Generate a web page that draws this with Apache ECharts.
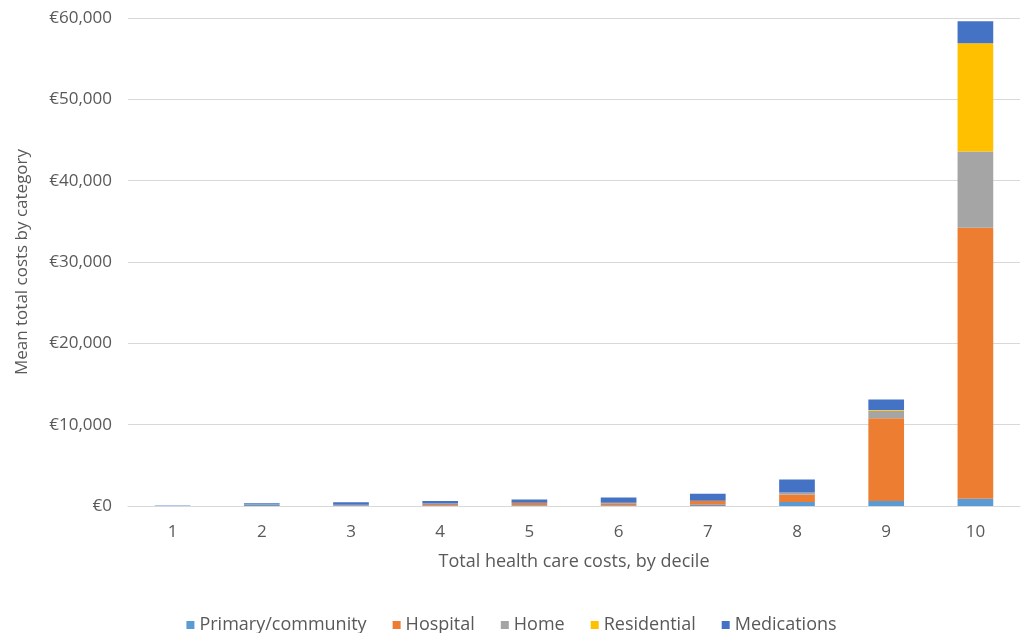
<!DOCTYPE html>
<html>
<head>
<meta charset="utf-8">
<script src="https://cdn.jsdelivr.net/npm/echarts@6/dist/echarts.min.js"></script>
<style>html,body{margin:0;padding:0;background:#fff;}#c{width:1023px;height:633px;}</style>
</head>
<body>
<div id="c"></div>
<script>
const categories = ['1','2','3','4','5','6','7','8','9','10'];
const primary     = [20, 220, 100, 100, 100, 100, 150, 500, 600, 900];
const hospital    = [10, 20, 50, 150, 300, 250, 500, 900, 10200, 33300];
const home        = [0, 0, 0, 50, 0, 50, 0, 250, 900, 9400];
const residential = [0, 0, 0, 0, 0, 0, 0, 0, 100, 13300];
const medications = [20, 100, 300, 300, 400, 650, 850, 1600, 1300, 2700];
const seriesNames = ['Primary/community','Hospital','Home','Residential','Medications'];
const colors = ['#5B9BD5','#ED7D31','#A5A5A5','#FFC000','#4472C4'];
const values = [primary, hospital, home, residential, medications];

const font = 'Open Sans';
const chart = echarts.init(document.getElementById('c'));
chart.setOption({
  animation: false,
  textStyle: {fontFamily: font},
  grid: {left: 128, right: 3, top: 18, bottom: 127},
  legend: {
    left: 'center', top: 611, itemWidth: 8, itemHeight: 8, itemGap: 26,
    icon: 'rect',
    textStyle: {color: '#595959', fontSize: 18, fontFamily: font},
    data: seriesNames
  },
  xAxis: {
    type: 'category', data: categories,
    name: 'Total health care costs, by decile', nameLocation: 'middle', nameGap: 47,
    nameTextStyle: {color: '#595959', fontSize: 18, fontFamily: font},
    axisLine: {lineStyle: {color: '#D9D9D9', width: 1}},
    axisTick: {show: false},
    axisLabel: {color: '#595959', fontSize: 17, margin: 18, fontFamily: font}
  },
  yAxis: {
    type: 'value', min: 0, max: 60000, interval: 10000,
    name: 'Mean total costs by category', nameLocation: 'middle', nameGap: 97,
    nameTextStyle: {color: '#595959', fontSize: 17, fontFamily: font},
    axisLine: {show: false}, axisTick: {show: false},
    splitLine: {lineStyle: {color: '#D9D9D9', width: 1}},
    axisLabel: {
      color: '#595959', fontSize: 17, margin: 16, fontFamily: font,
      formatter: v => '€' + v.toLocaleString('en-US')
    }
  },
  series: seriesNames.map((n, i) => ({
    name: n, type: 'bar', stack: 'total', barWidth: '40%',
    itemStyle: {color: colors[i]},
    data: values[i]
  }))
});
</script>
</body>
</html>
